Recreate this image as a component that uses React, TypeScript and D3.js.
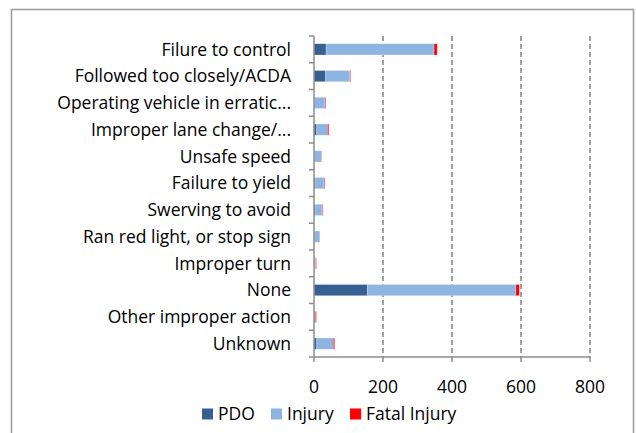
import React, { useEffect, useRef } from 'react';
import * as d3 from 'd3';

// contributing factors, top to bottom
const categories = [
  'Filure to control',
  'Followed too closely/ACDA',
  'Operating vehicle in erratic...',
  'Improper lane change/...',
  'Unsafe speed',
  'Failure to yield',
  'Swerving to avoid',
  'Ran red light, or stop sign',
  'Improper turn',
  'None',
  'Other improper action',
  'Unknown',
];

const pdo = [35, 34, 2, 8, 1, 5, 5, 1, 1, 155, 0, 8];
const injury = [313, 70, 30, 31, 20, 24, 18, 16, 4, 430, 4, 48];
const fatal = [9, 2, 2, 4, 1, 2, 2, 0, 2, 10, 3, 4];

const seriesNames = ['PDO', 'Injury', 'Fatal Injury'];
const seriesColors = ['#376092', '#8EB4E3', '#FF0000'];
const xTicks = [0, 200, 400, 600, 800];

export default function App() {
  const ref = useRef<SVGSVGElement>(null);

  useEffect(() => {
    const svg = d3.select(ref.current);
    svg.selectAll('*').remove();

    const width = 636;
    const height = 433;
    const margin = { top: 36, right: 46, bottom: 76, left: 314 };
    const font = "'Open Sans', sans-serif";
    const fontSize = 17.5;

    // outer chart frame
    svg
      .append('rect')
      .attr('x', 11.5)
      .attr('y', 9.5)
      .attr('width', 622)
      .attr('height', 440)
      .attr('fill', '#fff')
      .attr('stroke', '#999')
      .attr('stroke-width', 1.5);

    const x = d3.scaleLinear().domain([0, 800]).range([margin.left, width - margin.right]);
    const y = d3
      .scaleBand()
      .domain(categories)
      .range([margin.top, height - margin.bottom])
      .paddingInner(0.58)
      .paddingOuter(0.29);

    const g = svg.append('g');

    // dashed gridlines
    g.selectAll('.grid')
      .data(xTicks.slice(1))
      .enter()
      .append('line')
      .attr('x1', (d) => x(d))
      .attr('x2', (d) => x(d))
      .attr('y1', margin.top)
      .attr('y2', height - margin.bottom)
      .attr('stroke', '#7f7f7f')
      .attr('stroke-width', 1.5)
      .attr('stroke-dasharray', '5,3');

    const table = categories.map((c, i) => ({ cat: c, PDO: pdo[i], Injury: injury[i], 'Fatal Injury': fatal[i] }));
    const stacked = d3.stack<any>().keys(seriesNames)(table);

    g.selectAll('.series')
      .data(stacked)
      .enter()
      .append('g')
      .attr('fill', (d, i) => seriesColors[i])
      .selectAll('rect')
      .data((d) => d)
      .enter()
      .append('rect')
      .attr('x', (d) => x(d[0]))
      .attr('width', (d) => Math.max(0, x(d[1]) - x(d[0])))
      .attr('y', (d: any) => y(d.data.cat)!)
      .attr('height', y.bandwidth())
      .attr('stroke', 'rgba(255,255,255,0.5)')
      .attr('stroke-width', 0.5);

    // y axis: line plus ticks on category boundaries
    const axisColor = '#8c8c8c';
    const bottom = height - margin.bottom;
    g.append('line')
      .attr('x1', margin.left)
      .attr('x2', margin.left)
      .attr('y1', margin.top)
      .attr('y2', bottom)
      .attr('stroke', axisColor)
      .attr('stroke-width', 1.5);
    const step = (bottom - margin.top) / categories.length;
    g.selectAll('.ytick')
      .data(d3.range(categories.length + 1))
      .enter()
      .append('line')
      .attr('x1', margin.left - 5)
      .attr('x2', margin.left)
      .attr('y1', (i) => margin.top + i * step)
      .attr('y2', (i) => margin.top + i * step)
      .attr('stroke', axisColor)
      .attr('stroke-width', 1.5);

    g.selectAll('.ylabel')
      .data(categories)
      .enter()
      .append('text')
      .attr('x', margin.left - 23)
      .attr('y', (d) => y(d)! + y.bandwidth() / 2)
      .attr('dy', '0.35em')
      .attr('text-anchor', 'end')
      .attr('font-family', font)
      .attr('font-size', fontSize)
      .attr('fill', '#000')
      .text((d) => d);

    // x axis
    g.append('line')
      .attr('x1', margin.left)
      .attr('x2', x(800))
      .attr('y1', bottom)
      .attr('y2', bottom)
      .attr('stroke', axisColor)
      .attr('stroke-width', 1.5);
    g.selectAll('.xtick')
      .data(xTicks)
      .enter()
      .append('line')
      .attr('x1', (d) => x(d))
      .attr('x2', (d) => x(d))
      .attr('y1', bottom)
      .attr('y2', bottom + 5)
      .attr('stroke', axisColor)
      .attr('stroke-width', 1.5);
    g.selectAll('.xlabel')
      .data(xTicks)
      .enter()
      .append('text')
      .attr('x', (d) => x(d))
      .attr('y', bottom + 30)
      .attr('dy', '0.35em')
      .attr('text-anchor', 'middle')
      .attr('font-family', font)
      .attr('font-size', fontSize)
      .text((d) => `${d}`);

    // legend
    const legendX = [202, 271, 350];
    const legend = g
      .selectAll('.legend')
      .data(seriesNames)
      .enter()
      .append('g')
      .attr('transform', (d, i) => `translate(${legendX[i]},${414})`);
    legend
      .append('rect')
      .attr('x', 0)
      .attr('y', -5.5)
      .attr('width', 11)
      .attr('height', 11)
      .attr('fill', (d, i) => seriesColors[i]);
    legend
      .append('text')
      .attr('x', 16)
      .attr('y', 0)
      .attr('dy', '0.35em')
      .attr('font-family', font)
      .attr('font-size', fontSize)
      .text((d) => d);
  }, []);

  return (
    <svg
      ref={ref}
      width={636}
      height={433}
      style={{ position: 'absolute', left: 0, top: 0, display: 'block' }}
    />
  );
}
